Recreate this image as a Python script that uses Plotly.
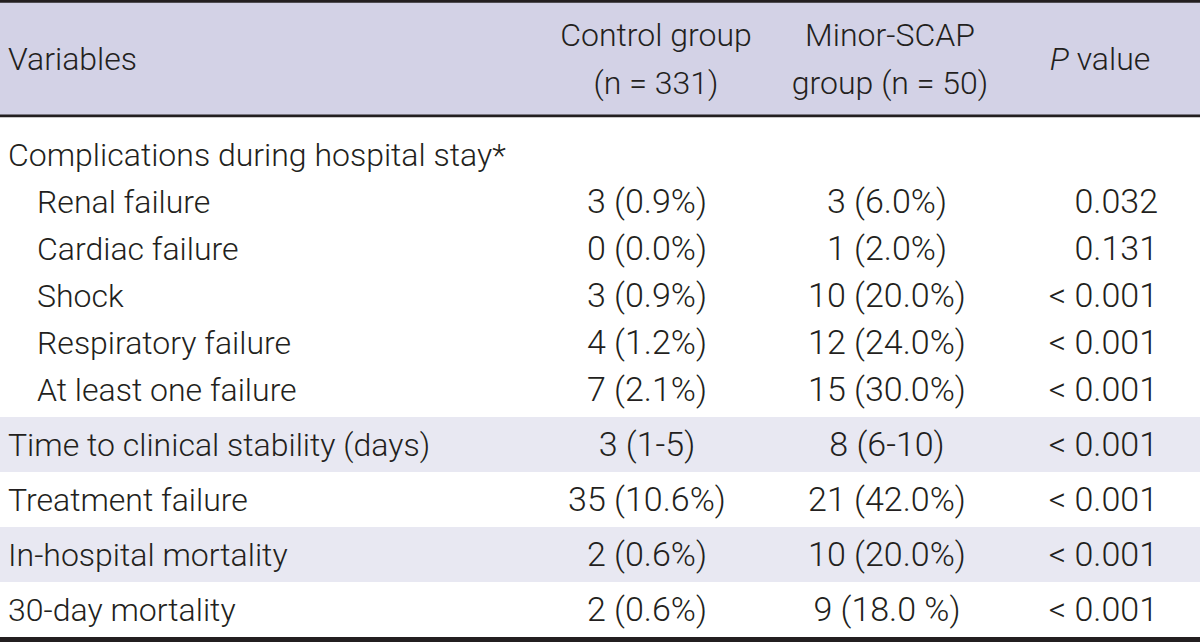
import plotly.graph_objects as go

# ---------------- data ----------------
header_variables = "Variables"
header_control = ["Control group", "(n = 331)"]
header_minor = ["Minor-SCAP", "group (n = 50)"]
header_p = "<i>P</i> value"

variables = [
    "Complications during hospital stay*",
    "Renal failure",
    "Cardiac failure",
    "Shock",
    "Respiratory failure",
    "At least one failure",
    "Time to clinical stability (days)",
    "Treatment failure",
    "In-hospital mortality",
    "30-day mortality",
]
indent = [0, 1, 1, 1, 1, 1, 0, 0, 0, 0]
control = ["", "3 (0.9%)", "0 (0.0%)", "3 (0.9%)", "4 (1.2%)", "7 (2.1%)",
           "3 (1-5)", "35 (10.6%)", "2 (0.6%)", "2 (0.6%)"]
minor = ["", "3 (6.0%)", "1 (2.0%)", "10 (20.0%)", "12 (24.0%)", "15 (30.0%)",
         "8 (6-10)", "21 (42.0%)", "10 (20.0%)", "9 (18.0 %)"]
pvalue = ["", "0.032", "0.131", "< 0.001", "< 0.001", "< 0.001",
          "< 0.001", "< 0.001", "< 0.001", "< 0.001"]
# rows grouped into blocks (for background banding)
block = [0, 0, 0, 0, 0, 0, 1, 2, 3, 4]

# ---------------- layout constants ----------------
W, H = 1200, 642
HEADER_BOTTOM = 116
SUB_STEP = 47
BLOCK0_PAD_TOP = 14
BLOCK0_PAD_BOT = 4
ROW_H = 55
TEXT_DY = 3
HEAD_FILL = "#d3d2e6"
BAND_FILL = "#e8e8f2"
INK = "#231f20"
FONT = "Roboto"
FS_HEAD = 32
FS_LABEL = 32
FS_NUM = 34
WEIGHT = 300

X_VAR = 8
X_SUB = 37
X_CTRL = 647
X_MINOR = 887
X_P = 1158
X_CTRL_H = 656
X_MINOR_H = 890
X_P_H = 1100

# compute row centres and block extents
ys = []
blocks = {}
y = HEADER_BOTTOM + 1
n0 = block.count(0)
b0_top = y
y += BLOCK0_PAD_TOP
for i in range(n0):
    ys.append(y + SUB_STEP / 2 + TEXT_DY)
    y += SUB_STEP
y += BLOCK0_PAD_BOT
blocks[0] = (b0_top, y)
for i in range(n0, len(variables)):
    blocks[block[i]] = (y, y + ROW_H)
    ys.append(y + ROW_H / 2 + TEXT_DY)
    y += ROW_H
table_bottom = y

fig = go.Figure()

shapes = []
shapes.append(dict(type="rect", xref="x", yref="y", x0=0, x1=W, y0=0, y1=HEADER_BOTTOM,
                   fillcolor=HEAD_FILL, line=dict(width=0), layer="below"))
for b, (t0, t1) in blocks.items():
    if b % 2 == 1:
        shapes.append(dict(type="rect", xref="x", yref="y", x0=0, x1=W, y0=t0, y1=t1,
                           fillcolor=BAND_FILL, line=dict(width=0), layer="below"))
shapes.append(dict(type="rect", xref="x", yref="y", x0=0, x1=W, y0=0, y1=2.7,
                   fillcolor=INK, line=dict(width=0)))
shapes.append(dict(type="rect", xref="x", yref="y", x0=0, x1=W, y0=HEADER_BOTTOM - 1.5,
                   y1=HEADER_BOTTOM + 1.2, fillcolor=INK, line=dict(width=0)))
shapes.append(dict(type="rect", xref="x", yref="y", x0=0, x1=W, y0=table_bottom,
                   y1=H + 2, fillcolor=INK, line=dict(width=0)))


def add_text(xs, yv, texts, pos, size):
    fig.add_trace(go.Scatter(x=xs, y=yv, text=texts, mode="text", textposition=pos,
                             textfont=dict(family=FONT, size=size, color=INK, weight=WEIGHT),
                             hoverinfo="skip", showlegend=False, cliponaxis=False))


HEAD_MID = HEADER_BOTTOM / 2 + 1 + TEXT_DY
HEAD_L1 = HEAD_MID - 24
HEAD_L2 = HEAD_MID + 24
add_text([X_VAR], [HEAD_MID], [header_variables], "middle right", FS_HEAD)
add_text([X_CTRL_H, X_CTRL_H], [HEAD_L1, HEAD_L2], header_control, "middle center", FS_HEAD)
add_text([X_MINOR_H, X_MINOR_H], [HEAD_L1, HEAD_L2], header_minor, "middle center", FS_HEAD)
add_text([X_P_H], [HEAD_MID], [header_p], "middle center", FS_HEAD)

add_text([X_SUB if k else X_VAR for k in indent], ys, variables, "middle right", FS_LABEL)
add_text([X_CTRL] * len(control), ys, control, "middle center", FS_NUM)
add_text([X_MINOR] * len(minor), ys, minor, "middle center", FS_NUM)
add_text([X_P] * len(pvalue), ys, pvalue, "middle left", FS_NUM)

fig.update_layout(
    width=W, height=H,
    margin=dict(l=0, r=0, t=0, b=0),
    paper_bgcolor="white", plot_bgcolor="white",
    shapes=shapes,
    xaxis=dict(range=[0, W], visible=False, fixedrange=True),
    yaxis=dict(range=[H, 0], visible=False, fixedrange=True),
)

fig.write_html(
    "out.html",
    config={"displayModeBar": False},
    post_script="document.body.style.margin='0';document.body.style.overflow='hidden';",
)
